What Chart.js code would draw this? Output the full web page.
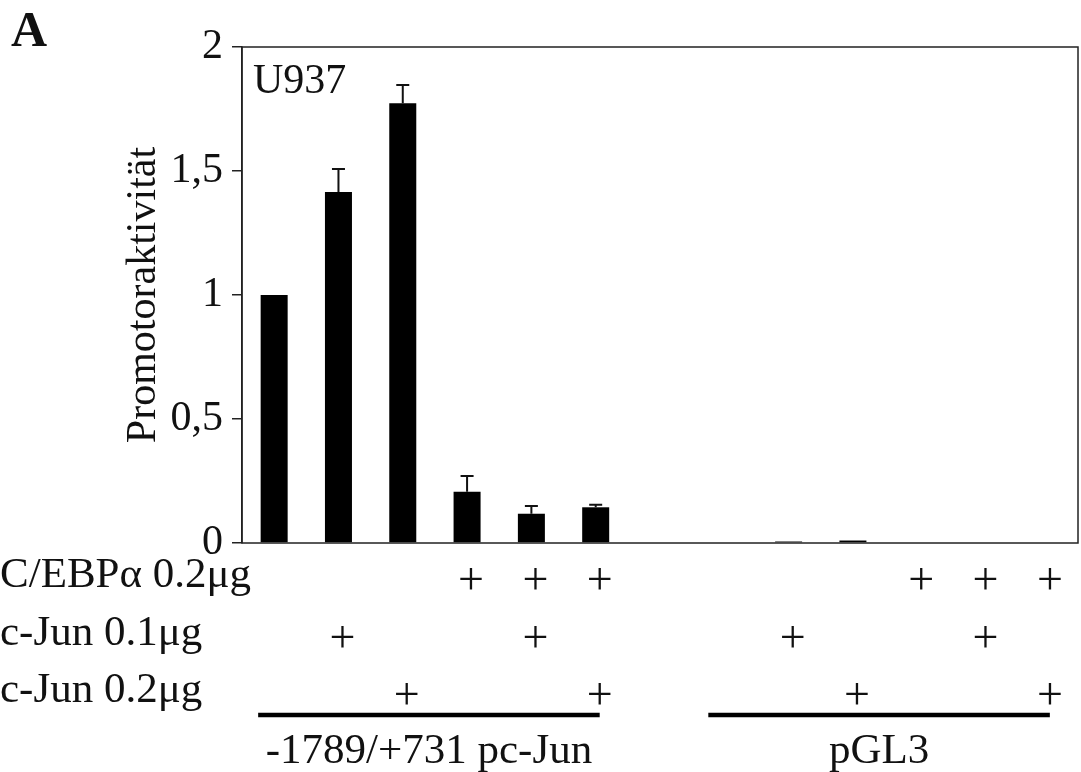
<!DOCTYPE html>
<html>
<head>
<meta charset="utf-8">
<script src="https://cdn.jsdelivr.net/npm/chart.js@4.4.0/dist/chart.umd.min.js"></script>
<style>
  html, body { margin: 0; padding: 0; background: #fff; }
  canvas { display: block; }
</style>
</head>
<body>
<canvas id="chart" width="1081" height="772"></canvas>
<script>
// Columns: 6 for the pc-Jun construct, an empty spacer, 6 for pGL3
const columns = ['1', '2', '3', '4', '5', '6', '', '7', '8', '9', '10', '11', '12'];
const activity = [1.0, 1.415, 1.773, 0.207, 0.118, 0.144, null, 0, 0.006, 0.01, 0, 0, 0];
const activityErr = [0, 0.093, 0.074, 0.063, 0.031, 0.01, null, 0, 0, 0, 0, 0, 0];
const yTicks = [0, 0.5, 1, 1.5, 2];

// Transfection scheme under the axis (1 = "+")
const rowLabels = ['C/EBPα 0.2μg', 'c-Jun 0.1μg', 'c-Jun 0.2μg'];
const cebp02 = [0, 0, 0, 1, 1, 1, 0, 0, 0, 0, 1, 1, 1];
const jun01 = [0, 1, 0, 0, 1, 0, 0, 0, 1, 0, 0, 1, 0];
const jun02 = [0, 0, 1, 0, 0, 1, 0, 0, 0, 1, 0, 0, 1];
const groupLabels = ['-1789/+731 pc-Jun', 'pGL3'];
const groupFirst = [0, 7];
const groupLast = [5, 12];

const SERIF = "'Liberation Serif', 'Times New Roman', serif";
const INK = '#111';

// Upper error bars with a cap
const errorBars = {
    id: 'errorBars',
    afterDatasetsDraw(chart) {
        const ctx = chart.ctx;
        const y = chart.scales.y;
        const meta = chart.getDatasetMeta(0);
        ctx.save();
        ctx.strokeStyle = INK;
        ctx.lineWidth = 2;
        activityErr.forEach((err, i) => {
            if (!err) return;
            const x = meta.data[i].x;
            const y0 = y.getPixelForValue(activity[i]);
            const y1 = y.getPixelForValue(activity[i] + err);
            ctx.beginPath();
            ctx.moveTo(x, y0);
            ctx.lineTo(x, y1);
            ctx.moveTo(x - 6.5, y1);
            ctx.lineTo(x + 6.5, y1);
            ctx.stroke();
        });
        ctx.restore();
    }
};

// Frame, panel letter, cell line and the +/- table
const decorations = {
    id: 'decorations',
    afterDraw(chart) {
        const ctx = chart.ctx;
        const area = chart.chartArea;
        const x = chart.scales.x;
        ctx.save();

        ctx.strokeStyle = '#222';
        ctx.lineWidth = 1.5;
        ctx.strokeRect(area.left, area.top, area.right - area.left, area.bottom - area.top);

        ctx.fillStyle = INK;
        ctx.textBaseline = 'alphabetic';
        ctx.font = 'bold 50px ' + SERIF;
        ctx.textAlign = 'left';
        ctx.fillText('A', 11, 46);

        ctx.font = '42px ' + SERIF;
        ctx.fillText('U937', area.left + 11, area.top + 46);

        const rows = [cebp02, jun01, jun02];
        rowLabels.forEach((label, r) => {
            const base = area.bottom + 44 + r * 57.5;
            ctx.font = '43px ' + SERIF;
            ctx.textAlign = 'left';
            ctx.fillText(label, 0, base);
            ctx.font = '46px ' + SERIF;
            ctx.textAlign = 'center';
            rows[r].forEach((on, i) => {
                if (on) ctx.fillText('+', x.getPixelForValue(i) + 4, base + 7);
            });
        });

        ctx.lineWidth = 4.5;
        ctx.strokeStyle = '#000';
        ctx.font = '43px ' + SERIF;
        ctx.textAlign = 'center';
        groupLabels.forEach((label, g) => {
            const x0 = x.getPixelForValue(groupFirst[g]) - 16;
            const x1 = x.getPixelForValue(groupLast[g]) + 4;
            const ly = area.bottom + 172;
            ctx.beginPath();
            ctx.moveTo(x0, ly);
            ctx.lineTo(x1, ly);
            ctx.stroke();
            ctx.fillText(label, (x0 + x1) / 2, area.bottom + 220);
        });

        ctx.restore();
    }
};

new Chart(document.getElementById('chart'), {
    type: 'bar',
    data: {
        labels: columns,
        datasets: [{
            data: activity,
            backgroundColor: '#000',
            borderWidth: 0,
            categoryPercentage: 1,
            barPercentage: 0.42
        }]
    },
    options: {
        responsive: false,
        animation: false,
        layout: {
            padding: { top: 47, right: 3, bottom: 229, left: 0 }
        },
        plugins: {
            legend: { display: false },
            tooltip: { enabled: false }
        },
        scales: {
            x: {
                display: false
            },
            y: {
                min: 0,
                max: 2,
                afterBuildTicks: scale => {
                    scale.ticks = yTicks.map(v => ({ value: v }));
                },
                afterFit: scale => {
                    scale.width = 242;
                },
                ticks: {
                    padding: 9,
                    color: INK,
                    font: { family: SERIF, size: 42 },
                    callback: v => String(v).replace('.', ',')
                },
                grid: {
                    drawOnChartArea: false,
                    tickLength: 10,
                    color: '#222',
                    lineWidth: 1.5
                },
                border: { color: '#222', width: 1.5 },
                title: {
                    display: true,
                    text: 'Promotoraktivität',
                    color: INK,
                    font: { family: SERIF, size: 42 },
                    padding: { top: 119, bottom: 0 }
                }
            }
        }
    },
    plugins: [errorBars, decorations]
});
</script>
</body>
</html>
